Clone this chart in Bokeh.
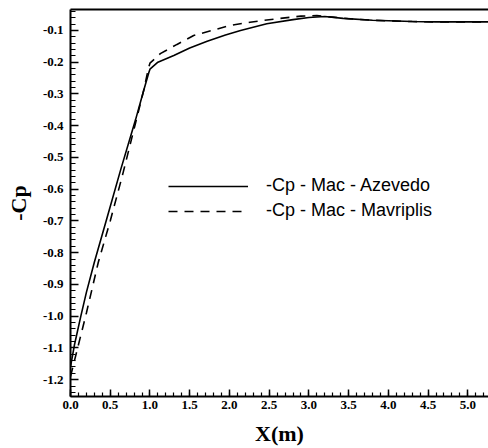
import numpy as np
from bokeh.plotting import figure
from bokeh.models import (FixedTicker, NumeralTickFormatter, LinearAxis, Legend,
                          LegendItem, Range1d)
from bokeh.embed import file_html
from bokeh.resources import INLINE

# -Cp distribution along the surface, X in metres
x_azevedo = [0.0, 0.05, 0.13, 0.20, 0.30, 0.46, 0.63, 0.82, 0.92, 0.985, 1.0, 1.1,
             1.3, 1.5, 1.72, 1.95, 2.14, 2.47, 2.8, 3.0, 3.2, 3.43, 3.8, 4.3, 4.6,
             5.0, 5.3]
cp_azevedo = [-1.16, -1.09, -1.00, -0.925, -0.83, -0.69, -0.54, -0.38, -0.29, -0.233,
              -0.222, -0.200, -0.179, -0.155, -0.134, -0.114, -0.100, -0.079, -0.066,
              -0.059, -0.056, -0.062, -0.068, -0.072, -0.073, -0.073, -0.073]

x_mavriplis = [0.0, 0.05, 0.12, 0.20, 0.35, 0.50, 0.65, 0.82, 0.92, 0.98, 1.0, 1.13,
               1.34, 1.55, 1.78, 2.01, 2.26, 2.6, 2.9, 3.1, 3.3, 3.5, 3.8, 4.3, 4.6,
               5.0, 5.3]
cp_mavriplis = [-1.19, -1.14, -1.07, -0.99, -0.83, -0.70, -0.56, -0.39, -0.29, -0.22,
                -0.203, -0.173, -0.144, -0.116, -0.100, -0.084, -0.074, -0.063, -0.055,
                -0.053, -0.058, -0.063, -0.068, -0.072, -0.073, -0.073, -0.073]

x_ticks = [0.0, 0.5, 1.0, 1.5, 2.0, 2.5, 3.0, 3.5, 4.0, 4.5, 5.0]
y_ticks = [-1.2, -1.1, -1.0, -0.9, -0.8, -0.7, -0.6, -0.5, -0.4, -0.3, -0.2, -0.1]

series_labels = ["-Cp - Mac - Azevedo", "-Cp - Mac - Mavriplis"]

p = figure(width=488, height=448, output_backend="svg", toolbar_location=None,
           x_range=Range1d(0.0, 5.26), y_range=Range1d(-1.253, -0.034),
           x_axis_label="X(m)", y_axis_label="-Cp",
           min_border_left=70, min_border_right=0, min_border_top=9,
           min_border_bottom=49)
p.outline_line_color = None
p.grid.visible = False
p.background_fill_color = "white"
p.border_fill_color = "white"

r1 = p.line(x_azevedo, cp_azevedo, line_color="black", line_width=1.6)
r2 = p.line(x_mavriplis, cp_mavriplis, line_color="black", line_width=1.6,
            line_dash="9 7")

x_minor = [round(v, 2) for v in np.arange(0.0, 5.31, 0.1)]
y_minor = [round(v, 2) for v in np.arange(-1.26, -0.03, 0.02)]

xa = p.xaxis[0]
xa.ticker = FixedTicker(ticks=x_ticks, minor_ticks=x_minor)
xa.formatter = NumeralTickFormatter(format="0.0")

ya = p.yaxis[0]
ya.ticker = FixedTicker(ticks=y_ticks, minor_ticks=y_minor)
ya.formatter = NumeralTickFormatter(format="0.0")

for ax in (xa, ya):
    ax.axis_line_width = 2
    ax.axis_line_color = "black"
    ax.major_tick_out = 0
    ax.minor_tick_out = 0
    ax.major_tick_line_width = 1.5
    ax.minor_tick_line_width = 1.2
    ax.major_label_text_font = "Liberation Serif"
    ax.major_label_text_font_style = "bold"
    ax.major_label_text_font_size = "13px"
    ax.major_label_text_color = "black"
    ax.axis_label_text_font = "Liberation Serif"
    ax.axis_label_text_font_style = "bold"
    ax.axis_label_text_font_size = "22px"
    ax.axis_label_text_color = "#000000"

xa.major_tick_in = 7
xa.minor_tick_in = 4
xa.major_label_standoff = 4
xa.axis_label_standoff = 9

ya.major_tick_in = 8
ya.minor_tick_in = 5
ya.major_label_standoff = 7
ya.axis_label_standoff = 9

# top border of the frame
top = LinearAxis(ticker=FixedTicker(ticks=[]), major_label_text_font_size="0px",
                 major_label_standoff=0, major_tick_in=0, major_tick_out=0,
                 minor_tick_in=0, minor_tick_out=0, axis_line_width=2,
                 axis_line_color="black")
p.add_layout(top, "above")

legend = Legend(items=[LegendItem(label=series_labels[0], renderers=[r1]),
                       LegendItem(label=series_labels[1], renderers=[r2])],
                location=(98, 175), glyph_width=80, glyph_height=20,
                label_standoff=18, label_text_font="Liberation Sans",
                label_text_font_size="18px", label_text_color="black",
                border_line_color=None, background_fill_alpha=0,
                padding=0, margin=0, spacing=4)
p.add_layout(legend)

open("out.html", "w").write(file_html(p, INLINE))
